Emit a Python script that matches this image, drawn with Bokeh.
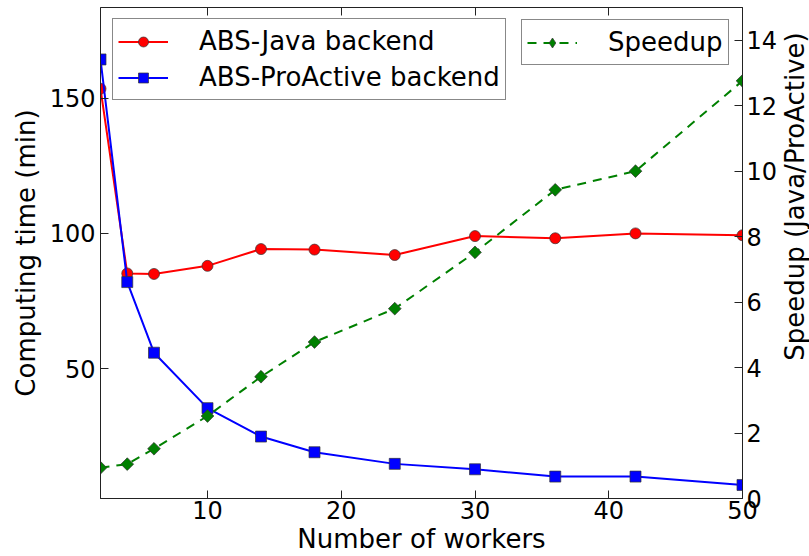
import math
from bokeh.plotting import figure
from bokeh.layouts import row
from bokeh.models import Range1d, LinearAxis, FixedTicker, Legend, LegendItem, Label
from bokeh.embed import file_html
from bokeh.resources import INLINE

# ---- data ----
workers = [2, 4, 6, 10, 14, 18, 24, 30, 36, 42, 50]
java_time = [153.5, 85.2, 85.0, 88.0, 94.2, 94.0, 92.0, 99.0, 98.2, 100.0, 99.3]
proactive_time = [164.3, 82.0, 55.9, 35.4, 24.9, 19.1, 14.8, 12.8, 10.1, 10.1, 7.0]
speedup = [0.94, 1.05, 1.52, 2.52, 3.72, 4.78, 5.80, 7.52, 9.43, 10.0, 12.76]
x_ticks = [10, 20, 30, 40, 50]
time_ticks = [50, 100, 150]
speedup_ticks = [0, 2, 4, 6, 8, 10, 12, 14]

FONT = "DejaVu Sans"
FRAME = "#222222"

W, H = 781, 556          # main chart; a 28px strip on its right holds the right axis title
BL, BR, BT, BB = 100, 39, 7, 57

p = figure(width=W, height=H, x_range=Range1d(2, 50), y_range=Range1d(2, 183.5),
           output_backend="svg", toolbar_location=None,
           min_border_left=BL, min_border_right=BR, min_border_top=BT, min_border_bottom=BB)
p.extra_y_ranges = {"speed": Range1d(0, 15)}
p.xgrid.visible = False
p.ygrid.visible = False
p.outline_line_color = FRAME
p.outline_line_width = 1
p.background_fill_color = "white"
p.border_fill_color = "white"

def style_axis(ax, tick_size="24px", label_size="26px"):
    ax.major_tick_in = 8
    ax.major_tick_out = 0
    ax.minor_tick_in = 0
    ax.minor_tick_out = 0
    ax.axis_line_color = FRAME
    ax.major_tick_line_color = FRAME
    ax.major_label_text_font = FONT
    ax.major_label_text_font_size = tick_size
    ax.major_label_text_color = "black"
    ax.axis_label_text_font = FONT
    ax.axis_label_text_font_size = label_size
    ax.axis_label_text_font_style = "normal"
    ax.axis_label_text_color = "black"

xa = p.xaxis[0]
xa.ticker = FixedTicker(ticks=x_ticks)
xa.axis_label = "Number of workers"
style_axis(xa)
xa.major_label_standoff = 2
xa.axis_label_standoff = 2

ya = p.yaxis[0]
ya.ticker = FixedTicker(ticks=time_ticks)
ya.axis_label = "Computing time (min)"
style_axis(ya)
ya.major_label_standoff = 5
ya.axis_label_standoff = 6

top = LinearAxis(ticker=FixedTicker(ticks=x_ticks))
style_axis(top, tick_size="1px")
top.major_label_text_color = None
top.major_label_standoff = 0
top.axis_line_color = None
p.add_layout(top, "above")

ra = LinearAxis(y_range_name="speed", ticker=FixedTicker(ticks=speedup_ticks))
style_axis(ra)
ra.major_label_standoff = 4
p.add_layout(ra, "right")

# ---- series ----
l1 = p.line(workers, java_time, line_color="#ff0000", line_width=2)
s1 = p.scatter(workers, java_time, marker="circle", size=11, fill_color="#ff0000",
               line_color="#333333", line_width=0.7)
l2 = p.line(workers, proactive_time, line_color="#0000ff", line_width=2)
s2 = p.scatter(workers, proactive_time, marker="square", size=11, fill_color="#0000ff",
               line_color="#333333", line_width=0.7)
l3 = p.line(workers, speedup, line_color="#008000", line_width=2, line_dash="9 7",
            y_range_name="speed")
# diamond marker (used for the legend key), covered by the rotated squares below
s3_key = p.scatter(workers, speedup, marker="diamond", size=11, fill_color="#008000",
                   line_color="#333333", line_width=0.7, y_range_name="speed")
s3 = p.scatter(workers, speedup, marker="square", angle=math.pi / 4, size=9,
               fill_color="#008000", line_color="#333333", line_width=0.7,
               y_range_name="speed")

def make_legend(items, loc):
    lg = Legend(items=items, location=loc)
    lg.border_line_color = "#111111"
    lg.border_line_width = 1
    lg.background_fill_color = "white"
    lg.background_fill_alpha = 1
    lg.label_text_font = FONT
    lg.label_text_font_size = "26px"
    lg.label_text_color = "black"
    lg.glyph_width = 50
    lg.glyph_height = 25
    lg.label_height = 34
    lg.label_standoff = 31
    lg.padding = 5
    lg.spacing = 2
    lg.margin = 0
    return lg

leg1 = make_legend([LegendItem(label="ABS-Java backend", renderers=[l1, s1]),
                    LegendItem(label="ABS-ProActive backend", renderers=[l2, s2])], (12, 398))
leg2 = make_legend([LegendItem(label="Speedup", renderers=[l3, s3_key])], (421, 433))
p.add_layout(leg1)
p.add_layout(leg2)

# ---- right axis title strip (reads bottom-to-top, like the reference) ----
SW = 809 - W
strip = figure(width=SW, height=H, output_backend="svg", toolbar_location=None,
               x_axis_location=None, y_axis_location=None, min_border=0,
               x_range=Range1d(0, 1), y_range=Range1d(0, 1))
strip.outline_line_color = None
strip.xgrid.visible = False
strip.ygrid.visible = False
strip.border_fill_color = "white"
strip.background_fill_color = "white"
strip.add_layout(Label(x=13, y=H - 254, x_units="screen", y_units="screen",
                       text="Speedup (Java/ProActive)", angle=math.pi / 2,
                       text_align="center", text_baseline="middle",
                       text_font=FONT, text_font_size="26px", text_color="black"))

layout = row(p, strip, spacing=0)
open("out.html", "w").write(file_html(layout, INLINE))
